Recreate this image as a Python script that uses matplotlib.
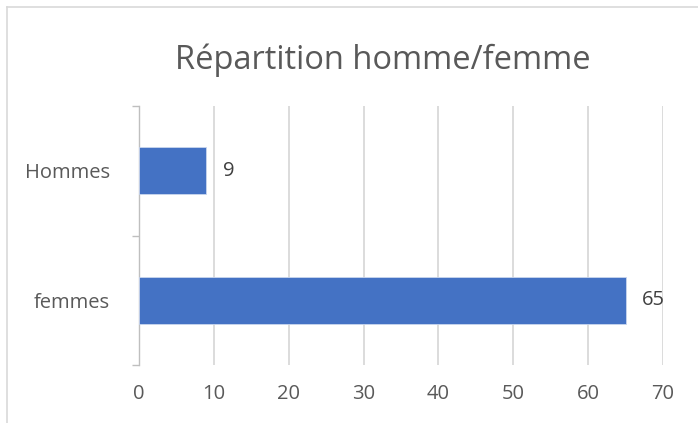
import matplotlib
matplotlib.use("Agg")
import matplotlib.pyplot as plt
from matplotlib.lines import Line2D

plt.rcParams["font.family"] = ["Open Sans", "DejaVu Sans"]

categories = ["femmes", "Hommes"]
values = [65, 9]
x_ticks = [0, 10, 20, 30, 40, 50, 60, 70]

W, H = 698, 423
fig = plt.figure(figsize=(W / 100, H / 100), dpi=100)
ax = fig.add_axes([139 / W, 1 - 365 / H, (663 - 139) / W, (365 - 106) / H])

bars = ax.barh(categories, values, height=0.365, color="#4472C4",
               edgecolor="#c9d6ee", linewidth=0.6, zorder=3)
ax.set_xlim(0, 70)
ax.set_ylim(-0.5, 1.5)
ax.set_xticks(x_ticks)
ax.xaxis.grid(True, color="#d9d9d9", linewidth=1.3, zorder=0)
ax.set_axisbelow(True)

for b, v in zip(bars, values):
    ax.text(b.get_width() + 2.2, b.get_y() + b.get_height() / 2, str(v),
            ha="left", va="center", fontsize=14.5, color="#404040")

for s in ["top", "right", "bottom"]:
    ax.spines[s].set_visible(False)
ax.spines["left"].set_color("#bfbfbf")
ax.spines["left"].set_linewidth(1.0)

ax.set_yticks([-0.5, 0.5, 1.5], minor=False)
ax.set_yticks([0, 1], minor=True)
ax.set_yticklabels(["", "", ""])
ax.set_yticklabels(categories, minor=True)
ax.tick_params(axis="y", which="major", length=5, color="#bfbfbf", width=1.0)
ax.tick_params(axis="y", which="minor", length=0, pad=21, labelsize=14.5,
               labelcolor="#595959")
ax.tick_params(axis="x", length=0, pad=14, labelsize=14.5, labelcolor="#595959")

fig.text(0.548, 1 - 60 / H, "Répartition homme/femme", ha="center", va="center",
         fontsize=23.5, color="#595959")

fig.add_artist(Line2D([7 / W, 1], [1 - 7 / H, 1 - 7 / H], color="#d9d9d9", lw=1.2))
fig.add_artist(Line2D([7 / W, 7 / W], [0, 1 - 7 / H], color="#d9d9d9", lw=1.2))

fig.savefig("out.png", dpi=100, facecolor="white")
